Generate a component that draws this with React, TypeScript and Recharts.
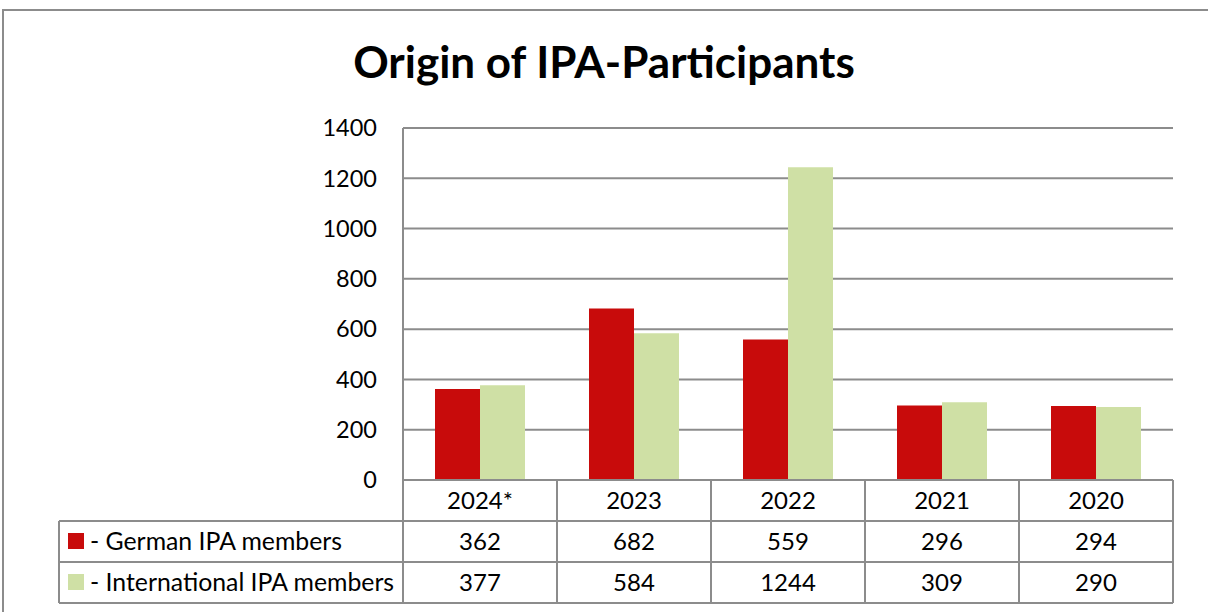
import React from 'react';
import { BarChart, Bar, XAxis, YAxis, CartesianGrid } from 'recharts';

// Chart data
const years = ['2024*', '2023', '2022', '2021', '2020'];
const germanMembers = [362, 682, 559, 296, 294];
const internationalMembers = [377, 584, 1244, 309, 290];
const yTicks = [0, 200, 400, 600, 800, 1000, 1200, 1400];
const seriesNames = ['- German IPA members', '- International IPA members'];

const RED = '#C80B0B';
const GREEN = '#CFE0A5';
const LINE = '#8C8C8C';
const FONT = 'Lato, "Open Sans", sans-serif';

const WIDTH = 1208;
const HEIGHT = 612;
const PLOT_LEFT = 403;
const PLOT_RIGHT = 1173;
const PLOT_TOP = 128;
const PLOT_BOTTOM = 480;
const COL_W = (PLOT_RIGHT - PLOT_LEFT) / years.length;
const ROW1 = 521;
const ROW2 = 562;
const ROW3 = 603;
const TABLE_LEFT = 59;

const chartData = years.map((y, i) => ({
  year: y,
  german: germanMembers[i],
  international: internationalMembers[i]
}));

// Data table drawn under the axis, one column per category tick
const TableTick = (props: any) => {
  const { x, index } = props;
  const left = x - COL_W / 2;
  const right = x + COL_W / 2;
  const textStyle = { fontFamily: FONT, fontSize: 24, fill: '#000' };
  const labelStyle = { fontFamily: FONT, fontSize: 24.8, fill: '#000' };
  return (
    <g>
      {index === 0 && (
        <g>
          <line x1={TABLE_LEFT} y1={ROW1} x2={left} y2={ROW1} stroke={LINE} strokeWidth={2} />
          <line x1={TABLE_LEFT} y1={ROW2} x2={left} y2={ROW2} stroke={LINE} strokeWidth={2} />
          <line x1={TABLE_LEFT} y1={ROW3} x2={left} y2={ROW3} stroke={LINE} strokeWidth={2} />
          <line x1={TABLE_LEFT} y1={ROW1} x2={TABLE_LEFT} y2={ROW3} stroke={LINE} strokeWidth={2} />
          <rect x={68} y={533} width={16} height={16} fill={RED} />
          <rect x={68} y={574} width={16} height={16} fill={GREEN} />
          <text x={90} y={(ROW1 + ROW2) / 2} dy="0.36em" {...labelStyle}>{seriesNames[0]}</text>
          <text x={90} y={(ROW2 + ROW3) / 2} dy="0.36em" {...labelStyle}>{seriesNames[1]}</text>
        </g>
      )}
      <line x1={left} y1={PLOT_BOTTOM} x2={left} y2={ROW3} stroke={LINE} strokeWidth={2} />
      {index === years.length - 1 && (
        <line x1={right} y1={PLOT_BOTTOM} x2={right} y2={ROW3} stroke={LINE} strokeWidth={2} />
      )}
      <line x1={left} y1={ROW1} x2={right} y2={ROW1} stroke={LINE} strokeWidth={2} />
      <line x1={left} y1={ROW2} x2={right} y2={ROW2} stroke={LINE} strokeWidth={2} />
      <line x1={left} y1={ROW3} x2={right} y2={ROW3} stroke={LINE} strokeWidth={2} />
      <text x={x} y={(PLOT_BOTTOM + ROW1) / 2} dy="0.36em" textAnchor="middle" {...textStyle}>
        {years[index]}
      </text>
      <text x={x} y={(ROW1 + ROW2) / 2} dy="0.36em" textAnchor="middle" {...textStyle}>
        {germanMembers[index]}
      </text>
      <text x={x} y={(ROW2 + ROW3) / 2} dy="0.36em" textAnchor="middle" {...textStyle}>
        {internationalMembers[index]}
      </text>
    </g>
  );
};

export default function App() {
  return (
    <div style={{ position: 'absolute', left: 0, top: 0, width: WIDTH, height: HEIGHT, background: '#fff', overflow: 'hidden' }}>
      <div
        style={{
          position: 'absolute',
          left: 2,
          top: 9,
          width: WIDTH + 20,
          height: HEIGHT,
          borderLeft: `2px solid ${LINE}`,
          borderTop: `2px solid ${LINE}`
        }}
      />
      <div
        style={{
          position: 'absolute',
          left: 0,
          width: WIDTH,
          top: 34,
          textAlign: 'center',
          fontFamily: FONT,
          fontWeight: 700,
          fontSize: 44,
          lineHeight: '54px',
          color: '#000'
        }}
      >
        Origin of IPA-Participants
      </div>
      <div style={{ position: 'absolute', left: 0, top: 0 }}>
        <BarChart
          width={WIDTH}
          height={HEIGHT}
          data={chartData}
          margin={{ top: PLOT_TOP, right: WIDTH - PLOT_RIGHT, left: PLOT_LEFT - 60, bottom: 0 }}
          barGap={0}
          barSize={45}
        >
          <CartesianGrid horizontal vertical={false} stroke={LINE} strokeWidth={2} />
          <XAxis
            dataKey="year"
            height={HEIGHT - PLOT_BOTTOM}
            axisLine={{ stroke: LINE, strokeWidth: 2 }}
            tickLine={false}
            interval={0}
            tick={<TableTick />}
          />
          <YAxis
            width={60}
            domain={[0, 1400]}
            ticks={yTicks}
            axisLine={{ stroke: LINE, strokeWidth: 2 }}
            tickLine={false}
            tickSize={0}
            tickMargin={26}
            tick={{ fontFamily: FONT, fontSize: 23.5, fill: '#000' }}
          />
          <Bar dataKey="german" fill={RED} isAnimationActive={false} />
          <Bar dataKey="international" fill={GREEN} isAnimationActive={false} />
        </BarChart>
      </div>
    </div>
  );
}
